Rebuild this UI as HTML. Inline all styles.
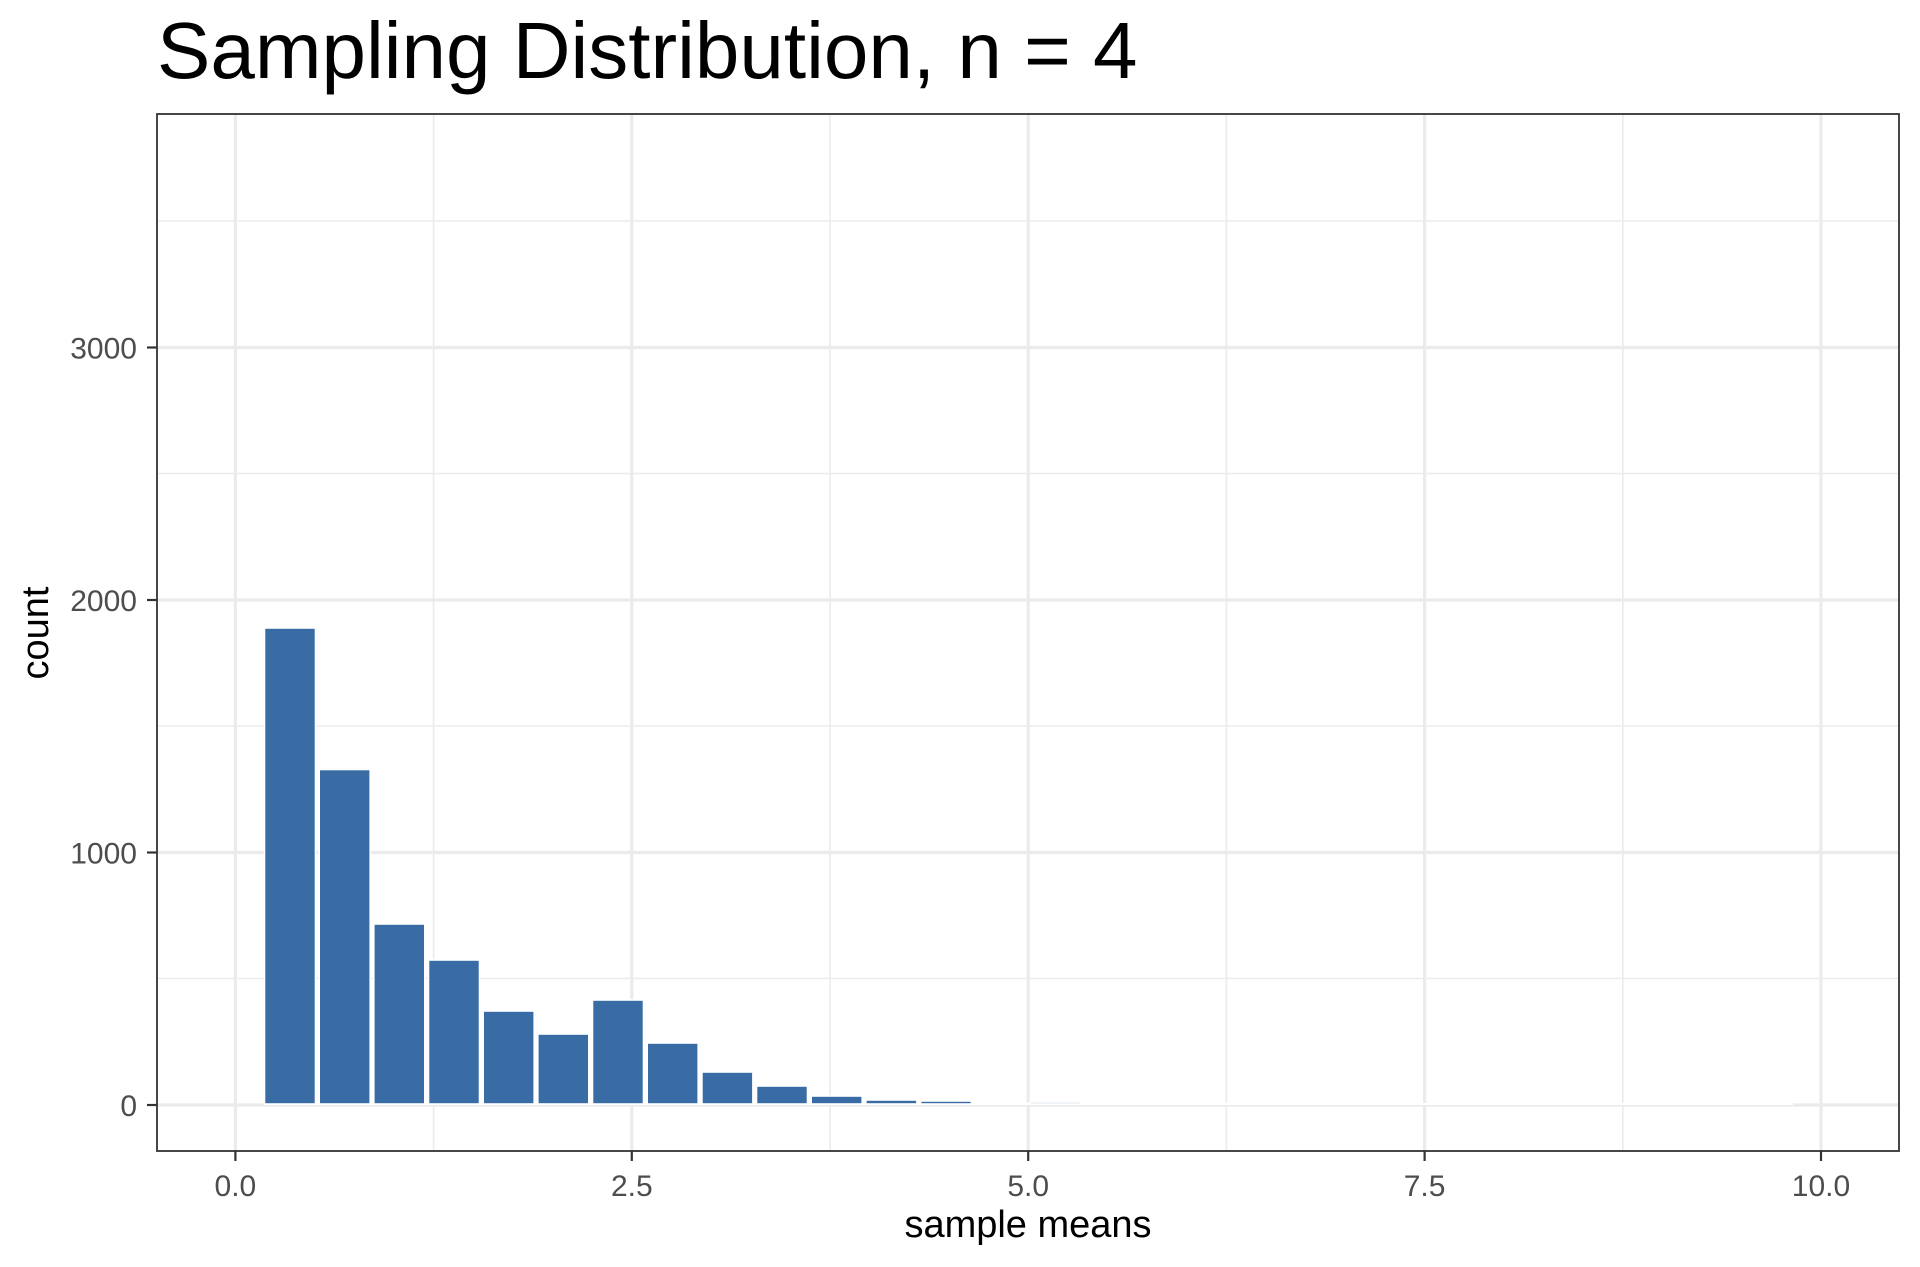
<!DOCTYPE html>
<html><head><meta charset="utf-8"><style>html,body{margin:0;padding:0;background:#fff}svg{display:block}</style></head>
<body>
<svg width="1920" height="1267" viewBox="0 0 1920 1267" xmlns="http://www.w3.org/2000/svg" font-family="Liberation Sans, Arial, sans-serif">
<rect width="1920" height="1267" fill="#fff"/>
<text x="157" y="78" font-size="80" fill="#000">Sampling Distribution, n = 4</text>
<g stroke="#ebebeb" stroke-width="1.6">
<line x1="157" x2="1899" y1="978.5" y2="978.5"/>
<line x1="157" x2="1899" y1="726" y2="726"/>
<line x1="157" x2="1899" y1="473.5" y2="473.5"/>
<line x1="157" x2="1899" y1="221" y2="221"/>
<line y1="114" y2="1151" x1="433.6" x2="433.6"/>
<line y1="114" y2="1151" x1="830" x2="830"/>
<line y1="114" y2="1151" x1="1226.4" x2="1226.4"/>
<line y1="114" y2="1151" x1="1622.8" x2="1622.8"/>
</g>
<g stroke="#ebebeb" stroke-width="3.2">
<line x1="157" x2="1899" y1="1105" y2="1105"/>
<line x1="157" x2="1899" y1="852.5" y2="852.5"/>
<line x1="157" x2="1899" y1="600" y2="600"/>
<line x1="157" x2="1899" y1="347.5" y2="347.5"/>
<line y1="114" y2="1151" x1="235.4" x2="235.4"/>
<line y1="114" y2="1151" x1="631.8" x2="631.8"/>
<line y1="114" y2="1151" x1="1028.2" x2="1028.2"/>
<line y1="114" y2="1151" x1="1424.6" x2="1424.6"/>
<line y1="114" y2="1151" x1="1821" x2="1821" />
</g>
<line x1="264" x2="1793" y1="1104" y2="1104" stroke="#fff" stroke-width="2"/>
<g fill="#396ca5" stroke="#fff" stroke-width="1.6">
<rect x="264.5" y="628" width="51" height="476"/>
<rect x="319.2" y="769.5" width="51" height="334.5"/>
<rect x="373.8" y="924" width="51" height="180"/>
<rect x="428.5" y="960" width="51" height="144"/>
<rect x="483.2" y="1011" width="51" height="93"/>
<rect x="537.8" y="1034" width="51" height="70"/>
<rect x="592.5" y="1000" width="51" height="104"/>
<rect x="647.2" y="1043" width="51" height="61"/>
<rect x="701.9" y="1072" width="51" height="32"/>
<rect x="756.5" y="1086" width="51" height="18"/>
<rect x="811.2" y="1096" width="51" height="8"/>
<rect x="865.9" y="1100" width="51" height="4"/>
<rect x="920.5" y="1101" width="51" height="3"/>
<rect x="975.2" y="1102.5" width="51" height="1.5" fill="#c9d6e6"/>
<rect x="1029.9" y="1102" width="51" height="2" fill="#b8c9de"/>
</g>
<rect x="157" y="114" width="1742" height="1037" fill="none" stroke="#333" stroke-width="1.8"/>
<g stroke="#333" stroke-width="2.2">
<line x1="147" x2="157" y1="1105" y2="1105"/>
<line x1="147" x2="157" y1="852.5" y2="852.5"/>
<line x1="147" x2="157" y1="600" y2="600"/>
<line x1="147" x2="157" y1="347.5" y2="347.5"/>
<line y1="1151" y2="1161" x1="235.4" x2="235.4"/>
<line y1="1151" y2="1161" x1="631.8" x2="631.8"/>
<line y1="1151" y2="1161" x1="1028.2" x2="1028.2"/>
<line y1="1151" y2="1161" x1="1424.6" x2="1424.6"/>
<line y1="1151" y2="1161" x1="1821" x2="1821"/>
</g>
<g font-size="30" fill="#4d4d4d" text-anchor="end">
<text x="137" y="1116">0</text>
<text x="137" y="863.5">1000</text>
<text x="137" y="611">2000</text>
<text x="137" y="358.5">3000</text>
</g>
<g font-size="30" fill="#4d4d4d" text-anchor="middle">
<text x="235.4" y="1196">0.0</text>
<text x="631.8" y="1196">2.5</text>
<text x="1028.2" y="1196">5.0</text>
<text x="1424.6" y="1196">7.5</text>
<text x="1821" y="1196">10.0</text>
</g>
<text x="1028" y="1237" font-size="38" text-anchor="middle" fill="#000">sample means</text>
<text transform="translate(48,633) rotate(-90)" font-size="38" text-anchor="middle" fill="#000">count</text>
</svg>
</body></html>
